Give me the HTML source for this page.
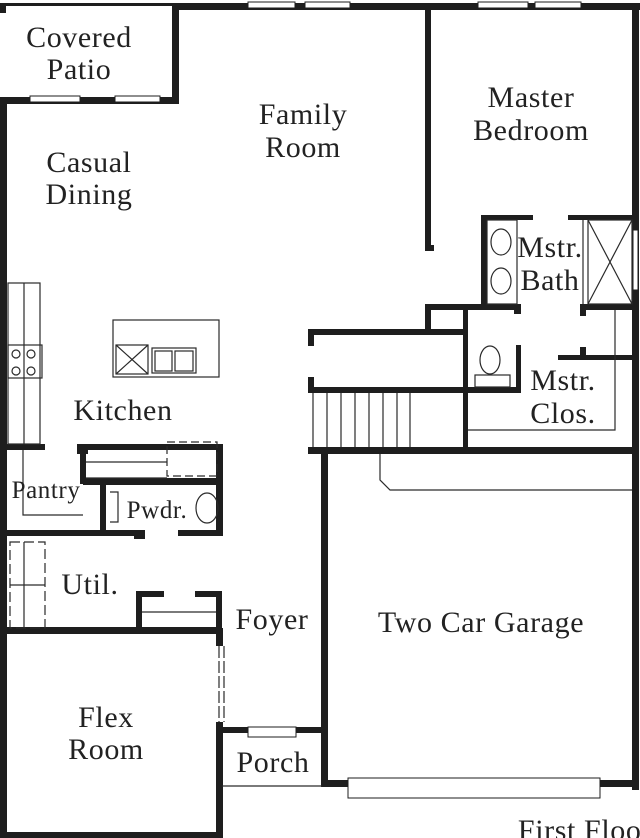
<!DOCTYPE html>
<html><head><meta charset="utf-8"><style>
html,body{margin:0;padding:0;background:#fff;width:640px;height:838px;overflow:hidden}
svg{display:block}
text{font-family:"Liberation Serif",serif;fill:#222;font-size:30px;text-anchor:middle;letter-spacing:0.6px}
</style></head><body>
<svg width="640" height="838" viewBox="0 0 640 838" xmlns="http://www.w3.org/2000/svg">
<g fill="#1e1e1e">
<rect x="0" y="3" width="178" height="3"/>
<rect x="0" y="5" width="6" height="8"/>
<rect x="172" y="4" width="7" height="100"/>
<rect x="0" y="97" width="178" height="7"/>
<rect x="175" y="3" width="465" height="7"/>
<rect x="0" y="97" width="7" height="741"/>
<rect x="632" y="5" width="7" height="785"/>
<rect x="425" y="8" width="6" height="243"/>
<rect x="425" y="245" width="9" height="6"/>
<rect x="481" y="215" width="6" height="95"/>
<rect x="481" y="215" width="52" height="5"/>
<rect x="568" y="215" width="66" height="5"/>
<rect x="425" y="304" width="95" height="6"/>
<rect x="514" y="304" width="7" height="10"/>
<rect x="580" y="304" width="54" height="6"/>
<rect x="580" y="304" width="6" height="12"/>
<rect x="425" y="304" width="6" height="30"/>
<rect x="308" y="329" width="160" height="6"/>
<rect x="463" y="304" width="5" height="150"/>
<rect x="308" y="329" width="6" height="17"/>
<rect x="308" y="377" width="6" height="16"/>
<rect x="308" y="387" width="213" height="6"/>
<rect x="516" y="345" width="5" height="48"/>
<rect x="558" y="355" width="76" height="5"/>
<rect x="580" y="347" width="6" height="12"/>
<rect x="308" y="447" width="330" height="7"/>
<rect x="321" y="453" width="7" height="334"/>
<rect x="321" y="780" width="28" height="7"/>
<rect x="600" y="780" width="38" height="7"/>
<rect x="222" y="727" width="26" height="6"/>
<rect x="296" y="727" width="28" height="6"/>
<rect x="216" y="628" width="7" height="18"/>
<rect x="216" y="722" width="7" height="116"/>
<rect x="0" y="832" width="223" height="6"/>
<rect x="0" y="627" width="222" height="7"/>
<rect x="136" y="591" width="6" height="40"/>
<rect x="136" y="591" width="28" height="6"/>
<rect x="195" y="591" width="27" height="6"/>
<rect x="216" y="591" width="6" height="40"/>
<rect x="83" y="478" width="140" height="7"/>
<rect x="100" y="478" width="6" height="58"/>
<rect x="216" y="444" width="7" height="92"/>
<rect x="0" y="530" width="145" height="6"/>
<rect x="134" y="530" width="11" height="9"/>
<rect x="178" y="530" width="45" height="6"/>
<rect x="77" y="444" width="145" height="6"/>
<rect x="77" y="444" width="11" height="10"/>
<rect x="80" y="444" width="6" height="40"/>
<rect x="0" y="444" width="45" height="6"/>
</g>
<g fill="#fff" stroke="#1e1e1e" stroke-width="1">
<rect x="248" y="2" width="47" height="6"/><rect x="305" y="2" width="45" height="6"/>
<rect x="478" y="2" width="50" height="6"/><rect x="535" y="2" width="46" height="6"/>
<rect x="30" y="96" width="50" height="6"/><rect x="115" y="96" width="45" height="6"/>
<rect x="348" y="778" width="252" height="20"/>
<rect x="248" y="727" width="48" height="10"/>
<rect x="633" y="230" width="5" height="60"/>
</g>
<g fill="none" stroke="#2a2a2a" stroke-width="1.2">
<path d="M313 393V447M327 393V447M341 393V447M355 393V447M369 393V447M383 393V447M397 393V447M410 393V447"/>
<path d="M380 454V480L390 490H632"/>
<path d="M468 430H615V310"/>
<rect x="588" y="220" width="44" height="84"/><path d="M588 220L632 304M632 220L588 304"/>
<path d="M583 220V304"/>
<rect x="487" y="220" width="30" height="84"/>
<ellipse cx="501" cy="242" rx="10" ry="13"/><ellipse cx="501" cy="281" rx="10" ry="13"/>
<ellipse cx="490" cy="360" rx="10" ry="14"/><rect x="475" y="375" width="35" height="12"/>
<rect x="8" y="283" width="32" height="161"/><path d="M24 283V444"/>
<rect x="8" y="345" width="34" height="33"/>
<circle cx="16" cy="354" r="4"/><circle cx="31" cy="354" r="4"/><circle cx="16" cy="371" r="4"/><circle cx="31" cy="371" r="4"/>
<rect x="113" y="320" width="106" height="57"/>
<rect x="116" y="345" width="32" height="29"/><path d="M116 345L148 374M148 345L116 374"/>
<rect x="152" y="348" width="44" height="25"/><rect x="155" y="351" width="17" height="20"/><rect x="175" y="351" width="18" height="20"/>
<path d="M86 462H167M86 478H167"/>
<rect x="167" y="442" width="50" height="34" stroke-dasharray="8 4"/>
<path d="M23 450V515H83"/>
<ellipse cx="207" cy="508" rx="11" ry="15"/>
<path d="M110 492H118V522H110"/>
<rect x="10" y="542" width="35" height="86" stroke-dasharray="10 4"/><path d="M10 585H45M24 542V628"/>
<path d="M142 612H216"/>
<path d="M219 646V722M224 646V722" stroke-dasharray="12 3"/>
<path d="M222 786H322"/>
</g>
<text x="79" y="47">Covered</text><text x="79" y="79">Patio</text>
<text x="303" y="124">Family</text><text x="303" y="157">Room</text>
<text x="531" y="107">Master</text><text x="531" y="140">Bedroom</text>
<text x="89" y="172">Casual</text><text x="89" y="204">Dining</text>
<text x="123" y="420">Kitchen</text>
<text x="550" y="257">Mstr.</text><text x="550" y="290">Bath</text>
<text x="563" y="390">Mstr.</text><text x="563" y="423">Clos.</text>
<text x="46" y="498" style="font-size:25px">Pantry</text>
<text x="157" y="518" style="font-size:25px">Pwdr.</text>
<text x="90" y="594">Util.</text>
<text x="272" y="629">Foyer</text>
<text x="481" y="632">Two Car Garage</text>
<text x="106" y="727">Flex</text><text x="106" y="759">Room</text>
<text x="273" y="772">Porch</text>
<text x="585" y="840">First Floor</text>
</svg>
</body></html>
